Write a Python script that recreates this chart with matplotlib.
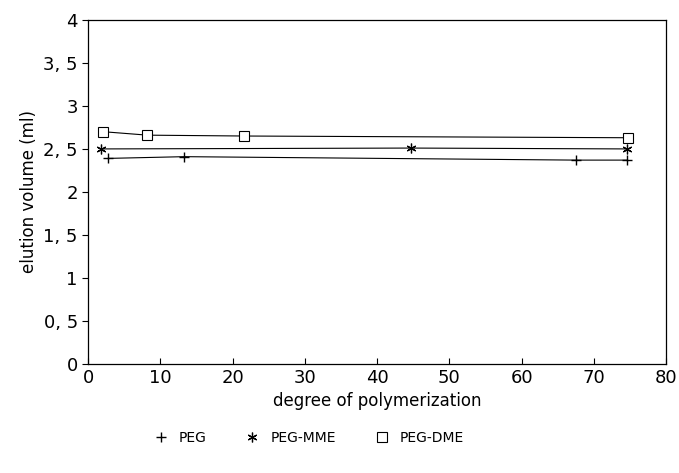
import matplotlib.pyplot as plt
from matplotlib.ticker import FuncFormatter

# degree of polymerization vs. elution volume
peg_x = [2.8, 13.3, 67.5, 74.6]
peg_y = [2.39, 2.41, 2.37, 2.37]
mme_x = [1.8, 44.7, 74.6]
mme_y = [2.50, 2.51, 2.50]
dme_x = [2.1, 8.2, 21.6, 74.7]
dme_y = [2.70, 2.66, 2.65, 2.63]

fig = plt.figure(figsize=(6.79, 4.73), dpi=100)
ax = fig.add_axes([0.130, 0.2304, 0.851, 0.7276])

ax.plot(peg_x, peg_y, color='black', lw=0.8, marker='+', ms=7, mew=1.0, label='PEG')
ax.plot(mme_x, mme_y, color='black', lw=0.8, marker=(6, 2, 0), ms=7, mew=0.9, label='PEG-MME')
ax.plot(dme_x, dme_y, color='black', lw=0.8, marker='s', ms=6.5, mfc='white', mew=0.8,
        label='PEG-DME')

ax.set_xlim(0, 80)
ax.set_ylim(0, 4)
ax.set_xticks(range(0, 81, 10))
ax.set_yticks([0, 0.5, 1, 1.5, 2, 2.5, 3, 3.5, 4])
ax.yaxis.set_major_formatter(FuncFormatter(
    lambda v, p: ('%g' % v).replace('.', ', ')))
ax.tick_params(axis='x', direction='in', length=4, width=0.8, labelsize=13)
ax.tick_params(axis='y', direction='out', length=4, width=0.8, labelsize=13)
ax.set_xlabel('degree of polymerization', fontsize=12)
ax.set_ylabel('elution volume (ml)', fontsize=12)
for s in ax.spines.values():
    s.set_linewidth(0.9)

fig.legend(loc='center', bbox_to_anchor=(0.455, 0.075), ncol=3, frameon=False,
           fontsize=10, handlelength=1.0, columnspacing=2.8, numpoints=1)
for h in fig.legends[0].legend_handles:
    h.set_linestyle('none')

fig.savefig('out.png')
